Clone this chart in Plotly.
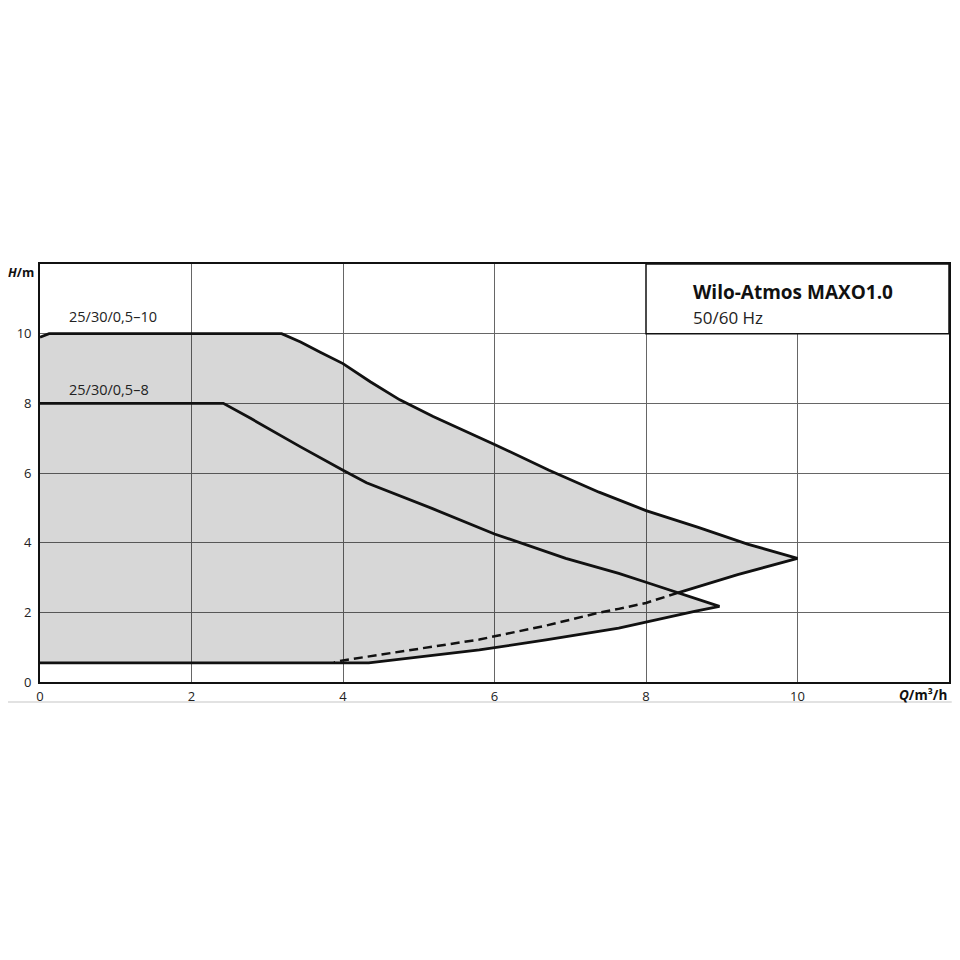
"""Wilo-Atmos MAXO 25/30 pump curve chart."""

import plotly.graph_objects as go

# 25/30/0,5-10 : upper curve from Q=0 to the tip, back to the crossing, then dashed
q_max_top = [0, 0.12, 3.19, 3.44, 3.7, 4.0, 4.36, 4.75, 5.19, 6.0, 6.72, 7.38, 8.0, 8.69, 9.34, 10.0]
h_max_top = [9.9, 10.0, 10.0, 9.76, 9.47, 9.14, 8.62, 8.1, 7.62, 6.82, 6.08, 5.45, 4.92, 4.44, 3.96, 3.55]
q_max_back = [10.0, 9.21, 8.42]
h_max_back = [3.55, 3.08, 2.56]
q_max_dash = [8.42, 8.0, 7.64, 7.38, 6.68, 5.8, 4.0, 3.88]
h_max_dash = [2.56, 2.27, 2.1, 1.99, 1.62, 1.22, 0.62, 0.56]

# 25/30/0,5-8 : upper curve, tail after the crossing, then the minimum curve back to Q=0
q_8_top = [0, 2.42, 2.78, 3.44, 4.0, 4.31, 5.19, 6.0, 6.94, 7.64, 7.99, 8.42]
h_8_top = [8.0, 8.0, 7.57, 6.75, 6.08, 5.72, 4.97, 4.25, 3.55, 3.12, 2.87, 2.56]
q_8_tail = [8.42, 8.97]
h_8_tail = [2.56, 2.17]
q_min = [8.97, 8.64, 8.0, 7.64, 6.68, 5.8, 4.34, 0]
h_min = [2.17, 2.03, 1.71, 1.55, 1.21, 0.92, 0.55, 0.55]

x_ticks = [0, 2, 4, 6, 8, 10]
y_ticks = [0, 2, 4, 6, 8, 10]

FONT = "Open Sans"
LINE = dict(color="#111111", width=2.8)

fig = go.Figure()

# union of both operating ranges, one polygon so the grey stays even
fill_q = q_max_top + q_max_back + q_8_tail[1:] + q_min
fill_h = h_max_top + h_max_back + h_8_tail[1:] + h_min
fig.add_trace(go.Scatter(x=fill_q, y=fill_h, mode="lines", fill="toself",
                         fillcolor="rgba(0,0,0,0.155)", line=dict(width=0),
                         hoverinfo="skip"))

fig.add_trace(go.Scatter(x=q_max_top + q_max_back[1:], y=h_max_top + h_max_back[1:],
                         mode="lines", line=LINE))
fig.add_trace(go.Scatter(x=q_max_dash, y=h_max_dash, mode="lines",
                         line=dict(color="#111111", width=2.5, dash="9px,5px")))
fig.add_trace(go.Scatter(x=q_8_top + q_8_tail[1:] + q_min[1:], y=h_8_top + h_8_tail[1:] + h_min[1:],
                         mode="lines", line=LINE))

fig.add_annotation(x=0.36, y=10.5, text="25/30/0,5–10", showarrow=False,
                   xanchor="left", yanchor="middle", font=dict(family=FONT, size=14.5, color="#222"))
fig.add_annotation(x=0.36, y=8.4, text="25/30/0,5–8", showarrow=False,
                   xanchor="left", yanchor="middle", font=dict(family=FONT, size=14.5, color="#222"))

# type box in the top right corner
fig.add_shape(type="rect", x0=8, x1=12, y0=10, y1=12, fillcolor="white",
              line=dict(color="#111111", width=1.5), layer="above")
fig.add_annotation(x=8.6, y=11.21, text="<b>Wilo-Atmos MAXO1.0</b>", showarrow=False,
                   xanchor="left", yanchor="middle", font=dict(family=FONT, size=19, color="#111"))
fig.add_annotation(x=8.6, y=10.47, text="50/60 Hz", showarrow=False,
                   xanchor="left", yanchor="middle", font=dict(family=FONT, size=17, color="#222"))

# axis titles
fig.add_annotation(xref="paper", yref="paper", x=0, y=1, xshift=-4, yshift=-8,
                   text="<b><i>H</i>/m</b>", showarrow=False, xanchor="right", yanchor="middle",
                   font=dict(family=FONT, size=12.5, color="#111"))
fig.add_annotation(xref="paper", yref="paper", x=1, y=0, yshift=-2,
                   text="<b><i>Q</i>/m³/h</b>", showarrow=False, xanchor="right", yanchor="top",
                   font=dict(family=FONT, size=13.5, color="#111"))

# faint rule under the chart
fig.add_shape(type="line", xref="paper", yref="paper", x0=-0.036, x1=1.003, y0=-0.048, y1=-0.048,
              line=dict(color="#e2e2e2", width=2))

axis = dict(showgrid=True, gridcolor="#666666", gridwidth=1, zeroline=False,
            showline=True, mirror=True, linecolor="#111111", linewidth=1.8,
            ticks="", tickfont=dict(family=FONT, size=13, color="#222"), fixedrange=True)

# page body adds an 8px offset, so the figure is 952 and margins are shifted
fig.update_layout(
    width=952, height=952,
    margin=dict(l=30, r=9, t=256, b=278),
    paper_bgcolor="white", plot_bgcolor="white",
    showlegend=False,
    xaxis=dict(axis, range=[0, 12], tickvals=x_ticks, ticklabelstandoff=1),
    yaxis=dict(axis, range=[0, 12], tickvals=y_ticks, ticklabelstandoff=4),
)

fig.write_html("out.html")
